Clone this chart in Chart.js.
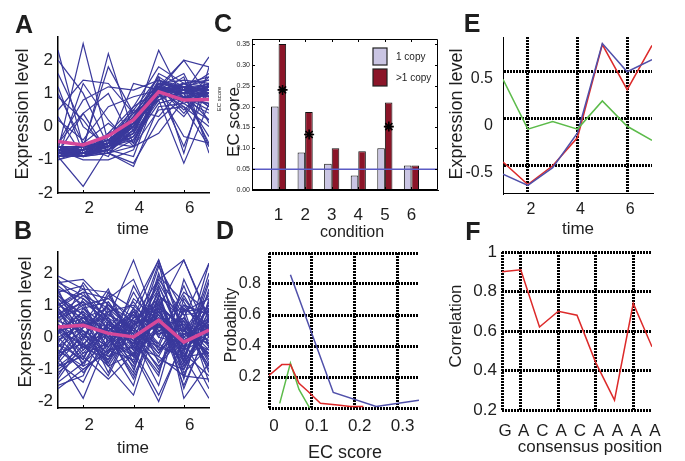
<!DOCTYPE html>
<html>
<head>
<meta charset="utf-8">
<title>Expression figure</title>
<script src="https://cdn.jsdelivr.net/npm/chart.js@4.4.1/dist/chart.umd.min.js"></script>
<style>
  body { margin: 0; background: #fff; }
  #fig { position: relative; width: 685px; height: 461px; overflow: hidden;
         font-family: "Liberation Sans", Arial, sans-serif; color: #1e1e1e; }
  #fig canvas { position: absolute; }
  .t { position: absolute; white-space: nowrap; line-height: 1; transform: translate(-50%, -50%); }
  .r { transform: translate(-50%, -50%) rotate(-90deg); }
  .L { font-weight: bold; font-size: 25px; }
</style>
</head>
<body>
<div id="fig">
  <canvas id="cA"></canvas>
  <canvas id="cB"></canvas>
  <canvas id="cC"></canvas>
  <canvas id="cD"></canvas>
  <canvas id="cE"></canvas>
  <canvas id="cF"></canvas>

  <div class="t L" style="left:24px;top:24px">A</div>
  <div class="t L" style="left:23px;top:230px">B</div>
  <div class="t L" style="left:223px;top:23px">C</div>
  <div class="t L" style="left:225px;top:230px">D</div>
  <div class="t L" style="left:472px;top:23px">E</div>
  <div class="t L" style="left:473px;top:231px">F</div>

  <div class="t r" style="left:22px;top:114px;font-size:18px">Expression level</div>
  <div class="t" style="left:133px;top:228px;font-size:17px">time</div>
  <div class="t r" style="left:25px;top:322px;font-size:18px">Expression level</div>
  <div class="t" style="left:133px;top:447px;font-size:17px">time</div>

  <div class="t r" style="left:219px;top:99px;font-size:6px">EC score</div>
  <div class="t r" style="left:233px;top:122px;font-size:17px">EC score</div>
  <div class="t" style="left:352px;top:232px;font-size:16px">condition</div>

  <div class="t r" style="left:231px;top:325px;font-size:16px">Probability</div>
  <div class="t" style="left:345px;top:452px;font-size:18px">EC score</div>

  <div class="t r" style="left:456px;top:114px;font-size:18px">Expression level</div>
  <div class="t" style="left:578px;top:228px;font-size:17px">time</div>

  <div class="t r" style="left:455px;top:326px;font-size:17px">Correlation</div>
  <div class="t" style="left:590px;top:446px;font-size:17px">consensus position</div>
</div>

<script>
// ---- data ----
const timePoints = [1, 2, 3, 4, 5, 6, 7];
const timeTicks = [2, 4, 6];
const exprTicks = [-2, -1, 0, 1, 2];

// panel A: profiles of one cluster + its mean
const profilesA = [
  [2.3, -0.6, -0.4, 0.1, 1.2, 1.0, 0.9],
  [-0.7, 2.5, -0.5, 0.0, 1.0, 1.1, 1.3],
  [-0.8, -0.7, 2.2, -0.2, 1.3, 0.9, 1.0],
  [-0.9, -1.8, -0.6, 0.2, 1.2, 1.1, 0.9],
  [1.2, -0.8, -0.7, 0.1, 2.3, 0.8, 1.5],
  [-0.6, -0.8, -0.7, -0.9, 1.1, 2.0, 0.9],
  [-0.8, -0.7, -0.5, 0.3, 0.9, 1.0, 2.1],
  [0.5, 1.4, 1.3, 0.4, 1.0, -0.3, -0.5],
  [-0.5, 0.8, 1.2, 1.1, 1.4, 1.2, 1.1],
  [-0.9, -0.9, -0.8, -1.2, 0.6, 0.7, 0.2],
  [-0.7, -0.6, -0.9, 0.5, 1.5, -0.8, 1.8],
  [-1.0, -0.8, -0.3, 0.5, 0.3, 1.2, -0.6],
  [-0.6, -0.8, -0.6, -0.3, 0.8, -1.1, 0.7],
  [0.2, -0.4, 0.6, 0.9, 1.1, 1.3, 1.4],
  [-0.8, -0.9, -0.7, 0.0, 1.2, 1.1, 1.0],
  [-0.7, -0.8, -0.6, -0.1, 1.1, 1.0, 1.2],
  [-0.6, -0.7, -0.5, 0.1, 1.3, 1.2, 1.1],
  [-0.9, -0.7, -0.4, 0.2, 1.0, 0.9, 0.8],
  [-0.8, -0.6, -0.6, -0.2, 1.4, 1.0, 1.3],
  [-0.7, -0.9, -0.5, 0.3, 0.9, 1.3, 1.0],
  [-0.6, -0.8, -0.8, -0.4, 0.7, 0.9, -0.3],
  [-0.8, -0.7, -0.4, 0.0, 1.6, 1.2, 0.6],
  [0.9, 0.2, -0.8, -0.6, 0.5, 0.6, 0.0],
  [-0.9, -0.5, 0.1, -0.5, 1.0, 1.5, -0.8],
  [-0.7, -1.0, -1.0, -0.7, 1.2, 0.5, 1.2],
  [1.6, 0.0, -0.6, 0.6, 1.1, 0.8, 0.4],
  [-0.8, 0.4, 1.0, -0.5, 1.3, 0.9, 0.7],
  [-0.7, -0.8, -0.2, 0.6, 1.8, 1.3, 1.5],
  [-0.6, -0.6, -0.5, -0.6, -0.2, 0.8, 1.1],
  [-1.0, -0.7, -0.6, 0.2, 1.1, 1.0, -0.5],
  [-0.8, -0.8, -0.7, -0.1, 1.2, 1.1, 1.6],
  [0.3, -0.9, -0.2, 0.1, 0.8, 1.2, 1.0],
  [-0.7, -0.7, -0.6, 0.1, 1.0, 1.1, 0.6],
  [-0.9, -0.8, -0.5, 0.4, 1.3, 1.2, 1.2],
  [-0.6, -0.9, -0.6, -0.2, 1.2, 0.4, 1.3],
  [2.0, 1.0, -0.6, -0.3, 0.9, 1.3, 1.0],
  [-0.7, -0.8, -0.6, 0.0, 1.0, 0.9, 0.9],
  [-0.9, -0.9, -0.7, -0.1, 1.1, 1.2, 1.1],
  [-0.6, -0.7, -0.4, 0.2, 1.2, 1.0, 1.0],
  [-0.8, -0.8, -0.6, 0.1, 1.1, 1.3, 1.2],
  [-0.7, -0.6, -0.5, 0.3, 1.2, 0.8, 0.7],
  [-0.9, -0.8, -0.7, -0.2, 0.9, 1.0, 1.3],
  [-0.8, -0.7, -0.5, 0.0, 1.3, 1.1, 0.9],
  [-0.7, -0.9, -0.6, 0.1, 1.0, 1.2, 1.4],
  [-0.6, -0.8, -0.5, 0.2, 1.4, 1.1, 1.2],
  [-0.8, -0.6, -0.6, 0.0, 1.2, 0.9, 0.5],
  [-0.9, -0.7, -0.4, 0.1, 1.1, 0.7, 1.0],
  [-0.7, -0.8, -0.7, -0.3, 1.0, 1.3, 0.8],
  [-0.6, -0.6, -0.3, 0.4, 1.3, 1.4, 1.3],
  [-0.8, -0.9, -0.8, -0.1, 1.2, 1.0, 0.2],
  [-0.9, -0.8, -0.6, 0.2, 0.8, 1.1, 1.1],
  [-0.7, -0.7, -0.5, 0.0, 1.1, 0.6, -0.6],
  [-0.8, -0.8, -0.6, -0.4, 1.0, 1.2, 1.0],
  [-0.6, -0.9, -0.5, 0.3, 1.5, 1.0, 1.2],
  [-0.7, -0.6, 1.8, 0.4, 1.0, 1.2, 0.9],
  [-0.8, -0.7, -0.5, 1.3, 1.1, -0.6, 1.3],
  [-0.5, 0.4, -0.8, -1.1, 0.2, 0.9, 1.0],
  [1.0, -0.5, -0.6, 0.0, 1.2, 1.6, 0.1],
  [-0.9, 1.3, 0.2, -0.6, 1.0, 0.3, 1.3],
  [-0.7, -0.9, -0.7, 0.1, 1.2, 2.0, 1.8]
];
const meanA = [-0.45, -0.55, -0.28, 0.2, 1.05, 0.8, 0.82];

// panel B
const profilesB = [
  [1.9, 1.5, 1.4, 0.9, 2.4, 0.2, -0.5],
  [1.7, 1.8, 1.0, 0.5, 1.2, -0.6, 1.1],
  [1.5, 1.2, 0.6, 2.4, 0.3, 1.0, 0.0],
  [1.2, 0.4, 1.5, -0.3, 1.8, 2.4, 0.5],
  [1.0, 1.4, 0.2, 0.8, -0.4, 0.6, 2.3],
  [0.8, -0.3, 1.1, 0.1, 2.3, -0.8, 1.5],
  [0.5, 1.0, -0.5, 1.2, 0.5, -1.2, 0.9],
  [0.3, 0.6, 0.9, -0.8, 1.0, 0.3, -1.0],
  [0.0, -0.8, 0.4, 0.0, -1.5, 1.2, 0.2],
  [-0.3, 0.2, -0.9, -1.8, 0.6, -0.4, 1.8],
  [-0.6, -1.9, 0.0, 0.7, -0.2, 1.6, -0.3],
  [-0.9, -0.6, -1.3, -0.5, -2.0, 0.0, 0.6],
  [-1.3, -0.2, -0.6, 0.3, 1.5, -1.9, -0.8],
  [-1.5, -1.2, 0.5, -1.0, 0.9, -0.6, -1.9],
  [1.8, 0.9, 0.3, -0.2, 2.2, 0.8, 1.2],
  [1.4, 1.6, -0.2, 1.4, 0.1, 0.4, -0.6],
  [1.1, 0.0, 1.3, 0.4, 1.6, -0.2, 0.3],
  [0.7, 1.3, 0.6, -0.6, 1.9, 1.1, -0.2],
  [0.4, -0.5, -0.2, 0.9, -0.8, 0.2, 1.0],
  [0.2, 0.8, 0.1, -1.3, 0.4, -0.9, 0.7],
  [-0.1, 0.3, 1.0, 0.2, -1.0, 0.9, -1.4],
  [-0.4, -1.0, -0.4, -0.7, 1.1, -1.6, 0.4],
  [-0.7, 0.5, -1.1, 0.5, -0.5, 0.5, -0.7],
  [-1.0, -0.4, 0.3, -0.4, 0.7, -0.3, 1.4],
  [1.6, 1.0, 1.2, 1.8, 0.0, 1.4, 0.8],
  [0.9, 0.1, -0.7, 0.6, 2.4, 0.0, -0.4],
  [0.6, 1.1, 0.5, -0.1, -1.2, 1.8, 0.1],
  [-0.2, -0.7, 0.8, 1.0, 0.2, -0.5, 2.0],
  [-0.5, 0.7, -0.3, -1.5, 1.3, 0.7, -1.1],
  [-0.8, -1.4, 0.2, 0.1, -0.7, -1.0, 0.5],
  [1.3, 0.5, 0.0, -0.9, 0.8, -0.7, 1.7],
  [0.1, 1.7, 0.7, 0.3, 1.7, 0.3, -0.9],
  [-1.2, 0.0, -0.8, 0.8, -0.3, 1.3, 0.0],
  [0.4, -0.1, 1.4, -0.4, -1.8, -0.1, -1.6],
  [1.0, 0.6, -0.1, 0.6, 0.9, 2.4, 0.6],
  [-0.2, 1.2, 0.4, -0.2, 1.4, -1.3, 1.2],
  [0.7, -0.9, -0.5, 1.6, 0.2, 0.6, -0.3],
  [0.2, 0.4, 0.6, -0.6, 2.0, -0.4, 2.3],
  [-0.6, 0.9, 1.1, 0.0, -0.9, 0.1, -0.2],
  [1.5, -0.2, -1.2, 0.4, 0.6, -1.5, 0.3],
  [0.5, 0.2, -0.3, 0.4, 0.8, -0.2, 0.3],
  [-0.3, 0.6, 0.3, -0.5, 0.2, 0.4, -0.4],
  [0.9, -0.4, 0.6, 0.1, -0.3, -0.6, 0.8],
  [-0.8, 0.1, -0.5, 0.6, 1.0, 0.2, -0.2],
  [0.2, -0.7, 0.9, -0.3, 0.5, -1.0, 0.6],
  [1.2, 0.7, 0.1, -0.6, 1.3, 0.5, -0.7],
  [-0.5, -0.2, -0.9, 0.3, -0.6, 0.8, 0.9],
  [0.7, 1.1, -0.4, -0.1, 0.4, -0.4, 0.0],
  [-1.1, -0.5, 0.4, -0.2, 0.7, -0.8, 0.4],
  [0.0, 0.4, 0.2, 0.7, -0.4, 0.1, -0.5],
  [1.4, 0.3, 0.8, -0.4, 1.0, -0.3, 1.0],
  [-0.2, -1.1, -0.2, 0.5, 0.3, 0.6, -0.8],
  [0.6, 0.9, 0.0, -1.1, 1.6, -0.1, 0.5],
  [-0.7, 0.3, 0.7, 0.2, -0.2, -0.7, 1.1],
  [0.3, -0.3, -0.7, 0.9, 0.1, 0.3, -0.1],
  [1.0, 1.5, 0.5, 0.0, 0.6, -0.9, 0.2],
  [-1.4, -0.8, -0.1, -0.6, 0.4, 0.5, -0.6],
  [0.8, 0.0, 1.0, 0.3, -0.5, 1.0, 0.7],
  [-0.1, 0.5, -0.6, -0.3, 1.2, -0.5, -1.2],
  [0.4, -0.6, 0.3, 1.1, 0.0, -0.2, 0.9],
  [1.7, 1.3, 0.9, 0.2, 1.1, 0.1, 0.4],
  [-0.9, -0.3, 0.1, -0.8, 0.8, -0.3, 0.1],
  [0.1, 0.8, -0.8, 0.4, 0.9, -1.1, -0.3],
  [-0.4, -0.9, 0.5, -0.1, -1.1, 0.9, 0.3],
  [1.1, 0.2, -0.3, 0.8, 0.3, 0.2, 1.3],
  [-0.6, 0.0, 0.0, -1.2, 0.5, -0.6, -0.5],
  [0.9, 1.4, 1.2, 0.6, 1.8, 0.7, 0.8],
  [-1.6, -1.0, -0.4, -0.3, -0.6, -1.2, -1.3],
  [0.2, -0.2, 0.4, 0.0, 1.4, -0.8, 0.6],
  [1.3, 0.7, -0.9, -0.5, 0.9, 0.4, -0.9]
];
const meanB = [0.32, 0.37, 0.12, 0.01, 0.53, -0.15, 0.22];

// panel C: EC score per condition
const conditions = [1, 2, 3, 4, 5, 6];
const ecOneCopy = [0.20, 0.09, 0.063, 0.035, 0.10, 0.059];
const ecMultiCopy = [0.35, 0.187, 0.10, 0.093, 0.21, 0.059];
const ecStars = [0.24, 0.133, null, null, 0.152, null];
const ecThreshold = 0.05;
const ecTicks = [0, 0.05, 0.10, 0.15, 0.20, 0.25, 0.30, 0.35];

// panel D: probability vs EC score
const probBlueX = [0.05, 0.15, 0.25, 0.35];
const probBlueY = [0.86, 0.10, 0.01, 0.05];
const probRedX = [0, 0.03, 0.05, 0.07, 0.09, 0.12, 0.16, 0.19, 0.22];
const probRedY = [0.21, 0.28, 0.28, 0.16, 0.11, 0.03, 0.02, 0.01, 0.01];
const probGreenX = [0.025, 0.05, 0.07, 0.095];
const probGreenY = [0.03, 0.29, 0.12, 0.0];
const ecScoreTicks = [0, 0.1, 0.2, 0.3];
const probTicks = [0, 0.2, 0.4, 0.6, 0.8, 1.0];

// panel E: three expression profiles
const exprBlue = [-0.59, -0.71, -0.52, -0.15, 0.80, 0.50, 0.63];
const exprRed = [-0.46, -0.70, -0.50, -0.20, 0.79, 0.31, 0.78];
const exprGreen = [0.42, -0.11, -0.03, -0.11, 0.19, -0.08, -0.23];
const exprTicksE = [-0.5, 0, 0.5];

// panel F: correlation along consensus
const consensus = ['G', 'A', 'C', 'A', 'C', 'A', 'A', 'A', 'A'];
const correlation = [0.90, 0.91, 0.62, 0.70, 0.68, 0.44, 0.25, 0.74, 0.52];
const corrTicks = [0.2, 0.4, 0.6, 0.8, 1.0];

// ---- helpers ----
const FONT = '"Liberation Sans", Arial, sans-serif';
const INK = '#1e1e1e';
const BLUE = '#3a399c';
const PINK = '#d6489a';
const LINE_BLUE = '#5050aa';
const LINE_RED = '#dd2a2a';
const LINE_GREEN = '#5cbb4a';

const xy = (xs, ys) => xs.map((x, i) => ({ x: x, y: ys[i] }));
const only = values => s => { s.ticks = values.map(v => ({ value: v })); };
const dotted = { color: '#000', lineWidth: 3, drawTicks: false };
const hidden = { display: false, drawTicks: false };

const innerTicks = {
  id: 'innerTicks',
  afterDraw(chart, args, opts) {
    if (!opts || !opts.len) return;
    const { ctx, chartArea: a } = chart;
    const sx = chart.scales.x, sy = chart.scales.y;
    ctx.save();
    ctx.strokeStyle = '#000';
    ctx.lineWidth = 1;
    ctx.beginPath();
    sx.ticks.forEach(t => {
      const p = Math.round(sx.getPixelForValue(t.value)) + 0.5;
      ctx.moveTo(p, a.bottom); ctx.lineTo(p, a.bottom - opts.len);
      if (opts.box) { ctx.moveTo(p, a.top); ctx.lineTo(p, a.top + opts.len); }
    });
    if (opts.box) {
      sy.ticks.forEach(t => {
        const p = Math.round(sy.getPixelForValue(t.value)) + 0.5;
        ctx.moveTo(a.left, p); ctx.lineTo(a.left + opts.len, p);
        ctx.moveTo(a.right, p); ctx.lineTo(a.right - opts.len, p);
      });
      ctx.rect(a.left + 0.5, a.top + 0.5, a.width - 1, a.height - 1);
    }
    ctx.stroke();
    ctx.restore();
  }
};

const copyLegend = {
  id: 'copyLegend',
  afterDatasetsDraw(chart, args, opts) {
    if (!opts || !opts.show) return;
    const { ctx, chartArea: a } = chart;
    const bars = chart.data.datasets.filter(d => !d.type);
    ctx.save();
    ctx.font = '10px ' + FONT;
    ctx.textBaseline = 'middle';
    bars.forEach((d, i) => {
      const x = a.right - 65, y = a.top + 9 + i * 21;
      ctx.fillStyle = d.backgroundColor;
      ctx.fillRect(x, y, 14, 17);
      ctx.strokeStyle = '#222';
      ctx.lineWidth = 1.2;
      ctx.strokeRect(x, y, 14, 17);
      ctx.fillStyle = INK;
      ctx.fillText(d.label, x + 23, y + 9);
    });
    ctx.restore();
  }
};
Chart.register(innerTicks, copyLegend);

function makeChart(id, box, area, cfg) {
  const cv = document.getElementById(id);
  cv.width = box.w; cv.height = box.h;
  cv.style.left = box.x + 'px'; cv.style.top = box.y + 'px';
  const o = cfg.options;
  o.responsive = false;
  o.animation = false;
  o.events = [];
  o.layout = { padding: { left: 0, bottom: 0, top: area.top - box.y, right: box.x + box.w - area.right } };
  o.scales.x.afterFit = s => { s.height = box.y + box.h - area.bottom; };
  o.scales.y.afterFit = s => { s.width = area.left - box.x; };
  o.plugins = Object.assign({ legend: { display: false }, tooltip: { enabled: false } }, o.plugins);
  return new Chart(cv, cfg);
}

function tickFont(size) { return { family: FONT, size: size }; }

// ---- A and B: cluster profiles ----
function clusterChart(id, box, area, profiles, mean, yMin, yMax, xPad) {
  const datasets = profiles.map(p => ({
    data: xy(timePoints, p), borderColor: BLUE, borderWidth: 1.2, pointRadius: 0, order: 1
  }));
  datasets.push({ data: xy(timePoints, mean), borderColor: PINK, borderWidth: 3.5, pointRadius: 0, order: 0 });
  makeChart(id, box, area, {
    type: 'line',
    data: { datasets: datasets },
    options: {
      plugins: { innerTicks: { len: 3 } },
      scales: {
        x: {
          type: 'linear', min: 1, max: 7, afterBuildTicks: only(timeTicks),
          grid: hidden, border: { display: true, color: '#000', width: 1.5 },
          ticks: { font: tickFont(17), color: INK, padding: xPad, labelOffset: 6, maxRotation: 0 }
        },
        y: {
          min: yMin, max: yMax, afterBuildTicks: only(exprTicks),
          grid: hidden, border: { display: true, color: '#000', width: 1.5 },
          ticks: { font: tickFont(17), color: INK, padding: 5 }
        }
      }
    }
  });
}
clusterChart('cA', { x: 0, y: 15, w: 230, h: 215 }, { left: 58, top: 37, right: 209, bottom: 193 },
  profilesA, meanA, -2, 2.7, 5);
clusterChart('cB', { x: 0, y: 232, w: 230, h: 218 }, { left: 58, top: 252, right: 209, bottom: 408 },
  profilesB, meanB, -2.2, 2.65, 7);

// ---- C: EC score bars ----
makeChart('cC', { x: 225, y: 15, w: 225, h: 215 }, { left: 252, top: 39, right: 438, bottom: 190 }, {
  type: 'bar',
  data: {
    datasets: [
      { type: 'line', data: [{ x: 0, y: ecThreshold }, { x: 7, y: ecThreshold }],
        borderColor: '#5b5bc4', borderWidth: 1.5, pointRadius: 0, order: 0 },
      { type: 'scatter', data: conditions.map((c, i) => ({ x: c + 0.15, y: ecStars[i] })),
        pointStyle: 'star', radius: 5, borderColor: '#000', borderWidth: 1.6, order: 0 },
      { label: '1 copy', data: xy(conditions, ecOneCopy), backgroundColor: '#cac5e3',
        borderColor: '#111', borderWidth: 1, borderSkipped: false,
        categoryPercentage: 0.57, barPercentage: 1, order: 1 },
      { label: '>1 copy', data: xy(conditions, ecMultiCopy), backgroundColor: '#8b1528',
        borderColor: '#111', borderWidth: 1, borderSkipped: false,
        categoryPercentage: 0.57, barPercentage: 1, order: 1 }
    ]
  },
  options: {
    plugins: { innerTicks: { len: 3, box: true }, copyLegend: { show: true } },
    scales: {
      x: {
        type: 'linear', min: 0, max: 7, offset: false, afterBuildTicks: only(conditions),
        grid: { display: false, offset: false, drawTicks: false }, border: { display: true, color: '#000', width: 1 },
        ticks: { font: tickFont(17), color: INK, padding: 15, maxRotation: 0 }
      },
      y: {
        min: 0, max: 0.362, afterBuildTicks: only(ecTicks),
        grid: hidden, border: { display: true, color: '#000', width: 1 },
        ticks: { font: tickFont(7), color: INK, padding: 2, callback: v => v.toFixed(2) }
      }
    }
  }
});

// ---- D: probability ----
makeChart('cD', { x: 226, y: 232, w: 214, h: 218 }, { left: 269, top: 253, right: 419, bottom: 408 }, {
  type: 'line',
  data: {
    datasets: [
      { data: xy(probBlueX, probBlueY), borderColor: LINE_BLUE, borderWidth: 1.5, pointRadius: 0 },
      { data: xy(probRedX, probRedY), borderColor: LINE_RED, borderWidth: 1.5, pointRadius: 0 },
      { data: xy(probGreenX, probGreenY), borderColor: LINE_GREEN, borderWidth: 1.5, pointRadius: 0 }
    ]
  },
  options: {
    scales: {
      x: {
        type: 'linear', min: 0, max: 0.35, afterBuildTicks: only(ecScoreTicks),
        grid: dotted, border: { display: false, dash: [2, 1] },
        ticks: { font: tickFont(17), color: INK, padding: 8, labelOffset: 5, maxRotation: 0, callback: v => String(v) }
      },
      y: {
        min: 0, max: 1, afterBuildTicks: only(probTicks),
        grid: dotted, border: { display: false, dash: [2, 1] },
        ticks: { font: tickFont(16), color: INK, padding: 8,
                 callback: v => (v > 0 && v < 1) ? v.toFixed(1) : '' }
      }
    }
  }
});

// ---- E: expression profiles ----
makeChart('cE', { x: 460, y: 15, w: 220, h: 215 }, { left: 503, top: 37, right: 652, bottom: 193 }, {
  type: 'line',
  data: {
    datasets: [
      { data: xy(timePoints, exprGreen), borderColor: LINE_GREEN, borderWidth: 1.5, pointRadius: 0 },
      { data: xy(timePoints, exprBlue), borderColor: LINE_BLUE, borderWidth: 1.5, pointRadius: 0 },
      { data: xy(timePoints, exprRed), borderColor: LINE_RED, borderWidth: 1.5, pointRadius: 0 }
    ]
  },
  options: {
    scales: {
      x: {
        type: 'linear', min: 1, max: 7, afterBuildTicks: only(timeTicks),
        grid: dotted, border: { display: true, color: '#000', width: 1, dash: [2, 1] },
        ticks: { font: tickFont(16), color: INK, padding: 7, labelOffset: 3, maxRotation: 0 }
      },
      y: {
        min: -0.79, max: 0.87, afterBuildTicks: only(exprTicksE),
        grid: dotted, border: { display: true, color: '#000', width: 1, dash: [2, 1] },
        ticks: { font: tickFont(16), color: INK, padding: 10, labelOffset: 7 }
      }
    }
  }
});

// ---- F: correlation along consensus ----
makeChart('cF', { x: 460, y: 232, w: 220, h: 218 }, { left: 502, top: 252, right: 652, bottom: 410 }, {
  type: 'line',
  data: {
    datasets: [
      { data: xy(consensus.map((c, i) => i + 1), correlation), borderColor: LINE_RED, borderWidth: 1.5, pointRadius: 0 }
    ]
  },
  options: {
    scales: {
      x: {
        type: 'linear', min: 1, max: 9, afterBuildTicks: only(consensus.map((c, i) => i + 1)),
        grid: { color: c => (c.tick && (c.tick.value % 2 === 0 || c.tick.value === 1)) ? '#000' : 'rgba(0,0,0,0)',
                lineWidth: 3, drawTicks: false },
        border: { display: false, dash: [2, 1] },
        ticks: { font: tickFont(17), color: INK, padding: 11, labelOffset: 3, maxRotation: 0, autoSkip: false,
                 callback: v => consensus[v - 1] }
      },
      y: {
        min: 0.2, max: 1.0, afterBuildTicks: only(corrTicks),
        grid: dotted, border: { display: false, dash: [2, 1] },
        ticks: { font: tickFont(17), color: INK, padding: 5, callback: v => v === 1 ? '1' : v.toFixed(1) }
      }
    }
  }
});
</script>
</body>
</html>
